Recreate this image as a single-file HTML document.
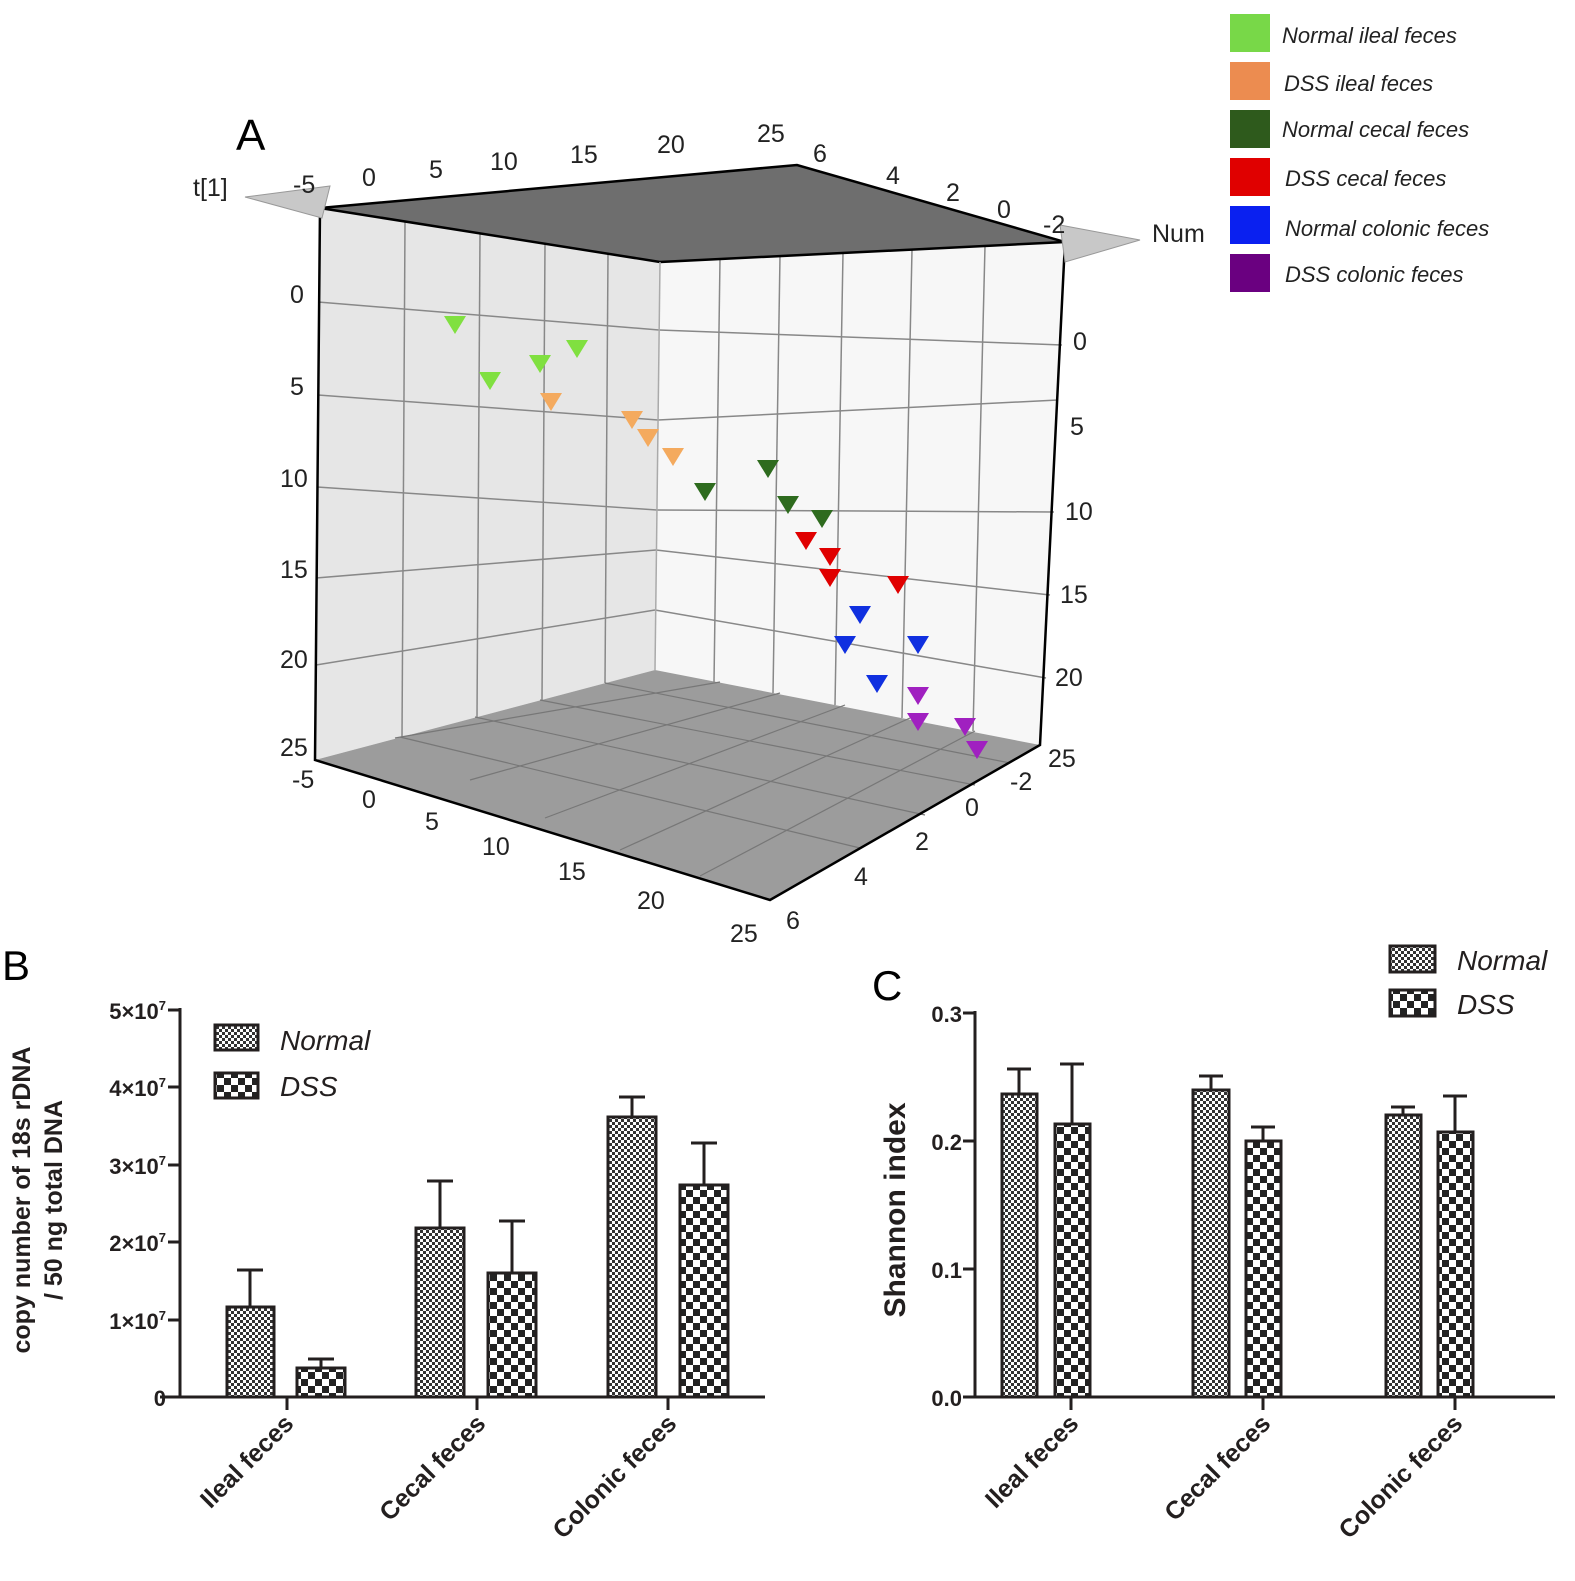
<!DOCTYPE html>
<html><head><meta charset="utf-8"><style>
html,body{margin:0;padding:0;background:#fff}
svg{display:block}
text{font-family:"Liberation Sans",Arial,sans-serif}
</style></head><body>
<svg width="1575" height="1581" viewBox="0 0 1575 1581" xmlns="http://www.w3.org/2000/svg">
<defs>
<pattern id="pn" width="6" height="6" patternUnits="userSpaceOnUse">
<rect width="6" height="6" fill="#fff"/><rect width="3" height="3" fill="#333"/><rect x="3" y="3" width="3" height="3" fill="#333"/>
</pattern>
<pattern id="pd" width="14" height="14" patternUnits="userSpaceOnUse">
<rect width="14" height="14" fill="#fff"/><rect width="7" height="7" fill="#222"/><rect x="7" y="7" width="7" height="7" fill="#222"/>
</pattern>
<symbol id="tri" viewBox="-11 -9 22 18"><polygon points="-11,-9 11,-9 0,9"/></symbol>
</defs>

<!-- 3D box -->
<polygon points="320,208 660,262 655,670 315,760" fill="#e6e6e6"/>
<polygon points="660,262 1065,242 1040,745 655,670" fill="#f7f7f7"/>
<polygon points="315,760 655,670 1040,745 770,900" fill="#9c9c9c"/>
<polygon points="320,208 797,165 1065,242 660,262" fill="#6e6e6e"/>
<g stroke="#888" stroke-width="1.5" fill="none">
<!-- left wall horizontal -->
<line x1="318" y1="302" x2="659" y2="330"/>
<line x1="318" y1="395" x2="658" y2="420"/>
<line x1="317" y1="487" x2="657" y2="510"/>
<line x1="316" y1="578" x2="656" y2="550"/>
<line x1="316" y1="665" x2="655" y2="610"/>
<!-- right wall horizontal -->
<line x1="659" y1="330" x2="1062" y2="345"/>
<line x1="658" y1="420" x2="1058" y2="400"/>
<line x1="657" y1="510" x2="1054" y2="512"/>
<line x1="656" y1="550" x2="1050" y2="595"/>
<line x1="655" y1="610" x2="1046" y2="678"/>
<!-- left wall verticals -->
<line x1="405" y1="222" x2="402" y2="737"/>
<line x1="480" y1="234" x2="477" y2="717"/>
<line x1="545" y1="244" x2="542" y2="700"/>
<line x1="608" y1="254" x2="605" y2="683"/>
<!-- right wall verticals -->
<line x1="720" y1="259" x2="714" y2="682"/>
<line x1="780" y1="256" x2="773" y2="693"/>
<line x1="843" y1="253" x2="835" y2="705"/>
<line x1="912" y1="250" x2="902" y2="718"/>
<line x1="985" y1="246" x2="973" y2="731"/>
</g>
<g stroke="#777" stroke-width="1.2">
<line x1="400" y1="737" x2="860" y2="848"/>
<line x1="475" y1="717" x2="925" y2="815"/>
<line x1="540" y1="700" x2="975" y2="785"/>
<line x1="605" y1="683" x2="1010" y2="763"/>
<line x1="395" y1="738" x2="720" y2="682"/>
<line x1="470" y1="780" x2="780" y2="693"/>
<line x1="545" y1="818" x2="845" y2="705"/>
<line x1="620" y1="850" x2="910" y2="718"/>
<line x1="700" y1="876" x2="975" y2="731"/>
</g>
<g stroke="#000" stroke-width="2.5" fill="none">
<polyline points="320,208 315,760 770,900 1040,745 1065,242 797,165 320,208"/>
<line x1="660" y1="262" x2="1065" y2="242"/>
<line x1="320" y1="208" x2="660" y2="262"/>
</g>
<line x1="655" y1="670" x2="660" y2="262" stroke="#aaa" stroke-width="1.5"/>
<!-- arrows -->
<polygon points="245,197 330,186 322,218" fill="#c8c8c8" stroke="#999"/>
<polygon points="1140,240 1060,225 1065,262" fill="#c8c8c8" stroke="#999"/>

<!-- markers -->
<g fill="#80e040"><use href="#tri" x="444" y="316" width="22" height="18"/><use href="#tri" x="479" y="372" width="22" height="18"/><use href="#tri" x="529" y="355" width="22" height="18"/><use href="#tri" x="566" y="340" width="22" height="18"/></g>
<g fill="#f4aa5e"><use href="#tri" x="540" y="393" width="22" height="18"/><use href="#tri" x="621" y="411" width="22" height="18"/><use href="#tri" x="637" y="429" width="22" height="18"/><use href="#tri" x="662" y="448" width="22" height="18"/></g>
<g fill="#2e6b1e"><use href="#tri" x="694" y="483" width="22" height="18"/><use href="#tri" x="757" y="460" width="22" height="18"/><use href="#tri" x="777" y="496" width="22" height="18"/><use href="#tri" x="811" y="510" width="22" height="18"/></g>
<g fill="#e00000"><use href="#tri" x="795" y="532" width="22" height="18"/><use href="#tri" x="819" y="548" width="22" height="18"/><use href="#tri" x="819" y="569" width="22" height="18"/><use href="#tri" x="887" y="576" width="22" height="18"/></g>
<g fill="#1030e0"><use href="#tri" x="849" y="606" width="22" height="18"/><use href="#tri" x="834" y="636" width="22" height="18"/><use href="#tri" x="907" y="636" width="22" height="18"/><use href="#tri" x="866" y="675" width="22" height="18"/></g>
<g fill="#a020c0"><use href="#tri" x="907" y="687" width="22" height="18"/><use href="#tri" x="907" y="713" width="22" height="18"/><use href="#tri" x="954" y="718" width="22" height="18"/><use href="#tri" x="966" y="741" width="22" height="18"/></g>

<!-- 3D labels -->
<g font-size="25" fill="#222">
<text x="293" y="193">-5</text><text x="362" y="186">0</text><text x="429" y="178">5</text><text x="490" y="170">10</text><text x="570" y="163">15</text><text x="657" y="153">20</text><text x="757" y="142">25</text>
<text x="813" y="162">6</text><text x="886" y="184">4</text><text x="946" y="201">2</text><text x="997" y="218">0</text><text x="1043" y="233">-2</text>
<text x="193" y="196">t[1]</text><text x="1152" y="242">Num</text>
<text x="290" y="303">0</text><text x="290" y="395">5</text><text x="280" y="487">10</text><text x="280" y="578">15</text><text x="280" y="668">20</text><text x="280" y="756">25</text>
<text x="1073" y="350">0</text><text x="1070" y="435">5</text><text x="1065" y="520">10</text><text x="1060" y="603">15</text><text x="1055" y="686">20</text><text x="1048" y="767">25</text>
<text x="292" y="788">-5</text><text x="362" y="808">0</text><text x="425" y="830">5</text><text x="482" y="855">10</text><text x="558" y="880">15</text><text x="637" y="909">20</text><text x="730" y="942">25</text>
<text x="786" y="929">6</text><text x="854" y="885">4</text><text x="915" y="850">2</text><text x="965" y="816">0</text><text x="1010" y="790">-2</text>
</g>
<text x="236" y="150" font-size="44" font-family="Liberation Serif,serif">A</text>

<!-- legend -->
<g font-size="22" font-style="italic" fill="#222">
<rect x="1230" y="14" width="40" height="38" fill="#78d848"/><text x="1282" y="43">Normal ileal feces</text>
<rect x="1230" y="62" width="40" height="38" fill="#ec8c50"/><text x="1284" y="91">DSS ileal feces</text>
<rect x="1230" y="110" width="40" height="38" fill="#2e5a1c"/><text x="1282" y="137">Normal cecal feces</text>
<rect x="1230" y="158" width="40" height="38" fill="#e00000"/><text x="1285" y="186">DSS cecal feces</text>
<rect x="1230" y="206" width="40" height="38" fill="#0a20f0"/><text x="1285" y="236">Normal colonic feces</text>
<rect x="1230" y="254" width="40" height="38" fill="#6a0080"/><text x="1285" y="282">DSS colonic feces</text>
</g>

<!-- Panel B -->
<text x="2" y="980" font-size="42" font-family="Liberation Serif,serif">B</text>
<g stroke="#231f1f" stroke-width="3" fill="none">
<line x1="180" y1="1008" x2="180" y2="1398"/><line x1="160" y1="1397" x2="765" y2="1397"/>
<line x1="168" y1="1010" x2="180" y2="1010"/><line x1="168" y1="1087" x2="180" y2="1087"/><line x1="168" y1="1165" x2="180" y2="1165"/><line x1="168" y1="1242" x2="180" y2="1242"/><line x1="168" y1="1320" x2="180" y2="1320"/><line x1="168" y1="1397" x2="180" y2="1397"/>
<line x1="287" y1="1397" x2="287" y2="1410"/><line x1="477" y1="1397" x2="477" y2="1410"/><line x1="668" y1="1397" x2="668" y2="1410"/>
<!-- errors -->
<line x1="250" y1="1307" x2="250" y2="1270"/><line x1="237" y1="1270" x2="263" y2="1270"/>
<line x1="321" y1="1368" x2="321" y2="1359"/><line x1="308" y1="1359" x2="334" y2="1359"/>
<line x1="440" y1="1228" x2="440" y2="1181"/><line x1="427" y1="1181" x2="453" y2="1181"/>
<line x1="512" y1="1273" x2="512" y2="1221"/><line x1="499" y1="1221" x2="525" y2="1221"/>
<line x1="632" y1="1117" x2="632" y2="1097"/><line x1="619" y1="1097" x2="645" y2="1097"/>
<line x1="704" y1="1185" x2="704" y2="1143"/><line x1="691" y1="1143" x2="717" y2="1143"/>
</g>
<g stroke="#231f1f" stroke-width="3">
<rect x="227" y="1307" width="47" height="90" fill="url(#pn)"/>
<rect x="297" y="1368" width="48" height="29" fill="url(#pd)"/>
<rect x="416" y="1228" width="48" height="169" fill="url(#pn)"/>
<rect x="488" y="1273" width="48" height="124" fill="url(#pd)"/>
<rect x="608" y="1117" width="48" height="280" fill="url(#pn)"/>
<rect x="680" y="1185" width="48" height="212" fill="url(#pd)"/>
<rect x="215" y="1025" width="43" height="25" fill="url(#pn)"/>
<rect x="215" y="1073" width="43" height="25" fill="url(#pd)"/>
</g>
<g font-size="28" font-style="italic" fill="#231f1f"><text x="280" y="1050">Normal</text><text x="280" y="1096">DSS</text></g>
<g font-size="22" font-weight="bold" fill="#231f1f" text-anchor="end">
<text x="166" y="1019">5×10<tspan font-size="13" dy="-9">7</tspan></text>
<text x="166" y="1096">4×10<tspan font-size="13" dy="-9">7</tspan></text>
<text x="166" y="1174">3×10<tspan font-size="13" dy="-9">7</tspan></text>
<text x="166" y="1251">2×10<tspan font-size="13" dy="-9">7</tspan></text>
<text x="166" y="1329">1×10<tspan font-size="13" dy="-9">7</tspan></text>
<text x="166" y="1406">0</text>
</g>
<g font-size="25" font-weight="bold" fill="#231f1f" text-anchor="middle">
<text transform="translate(30,1200) rotate(-90)">copy number of 18s rDNA</text>
<text transform="translate(62,1200) rotate(-90)">/ 50 ng total DNA</text>
</g>
<g font-size="25" font-weight="bold" fill="#231f1f" text-anchor="end">
<text transform="translate(295,1425) rotate(-45)">Ileal feces</text>
<text transform="translate(487,1425) rotate(-45)">Cecal feces</text>
<text transform="translate(678,1425) rotate(-45)">Colonic feces</text>
</g>

<!-- Panel C -->
<text x="872" y="1000" font-size="42" font-family="Liberation Serif,serif">C</text>
<g stroke="#231f1f" stroke-width="3" fill="none">
<line x1="975" y1="1011" x2="975" y2="1398"/><line x1="975" y1="1397" x2="1555" y2="1397"/>
<line x1="963" y1="1013" x2="975" y2="1013"/><line x1="963" y1="1141" x2="975" y2="1141"/><line x1="963" y1="1269" x2="975" y2="1269"/><line x1="963" y1="1397" x2="975" y2="1397"/>
<line x1="1071" y1="1397" x2="1071" y2="1410"/><line x1="1263" y1="1397" x2="1263" y2="1410"/><line x1="1455" y1="1397" x2="1455" y2="1410"/>
<line x1="1019" y1="1094" x2="1019" y2="1069"/><line x1="1007" y1="1069" x2="1031" y2="1069"/>
<line x1="1072" y1="1124" x2="1072" y2="1064"/><line x1="1060" y1="1064" x2="1084" y2="1064"/>
<line x1="1211" y1="1090" x2="1211" y2="1076"/><line x1="1199" y1="1076" x2="1223" y2="1076"/>
<line x1="1263" y1="1141" x2="1263" y2="1127"/><line x1="1251" y1="1127" x2="1275" y2="1127"/>
<line x1="1403" y1="1115" x2="1403" y2="1107"/><line x1="1391" y1="1107" x2="1415" y2="1107"/>
<line x1="1455" y1="1132" x2="1455" y2="1096"/><line x1="1443" y1="1096" x2="1467" y2="1096"/>
</g>
<g stroke="#231f1f" stroke-width="3">
<rect x="1002" y="1094" width="35" height="303" fill="url(#pn)"/>
<rect x="1055" y="1124" width="35" height="273" fill="url(#pd)"/>
<rect x="1193" y="1090" width="36" height="307" fill="url(#pn)"/>
<rect x="1246" y="1141" width="35" height="256" fill="url(#pd)"/>
<rect x="1386" y="1115" width="35" height="282" fill="url(#pn)"/>
<rect x="1438" y="1132" width="35" height="265" fill="url(#pd)"/>
<rect x="1390" y="946" width="45" height="26" fill="url(#pn)"/>
<rect x="1390" y="990" width="45" height="26" fill="url(#pd)"/>
</g>
<g font-size="28" font-style="italic" fill="#231f1f"><text x="1457" y="970">Normal</text><text x="1457" y="1014">DSS</text></g>
<g font-size="22" font-weight="bold" fill="#231f1f" text-anchor="end">
<text x="962" y="1022">0.3</text><text x="962" y="1150">0.2</text><text x="962" y="1278">0.1</text><text x="962" y="1406">0.0</text>
</g>
<text transform="translate(905,1210) rotate(-90)" font-size="30" font-weight="bold" fill="#231f1f" text-anchor="middle">Shannon index</text>
<g font-size="25" font-weight="bold" fill="#231f1f" text-anchor="end">
<text transform="translate(1080,1425) rotate(-45)">Ileal feces</text>
<text transform="translate(1272,1425) rotate(-45)">Cecal feces</text>
<text transform="translate(1464,1425) rotate(-45)">Colonic feces</text>
</g>
</svg>
</body></html>
